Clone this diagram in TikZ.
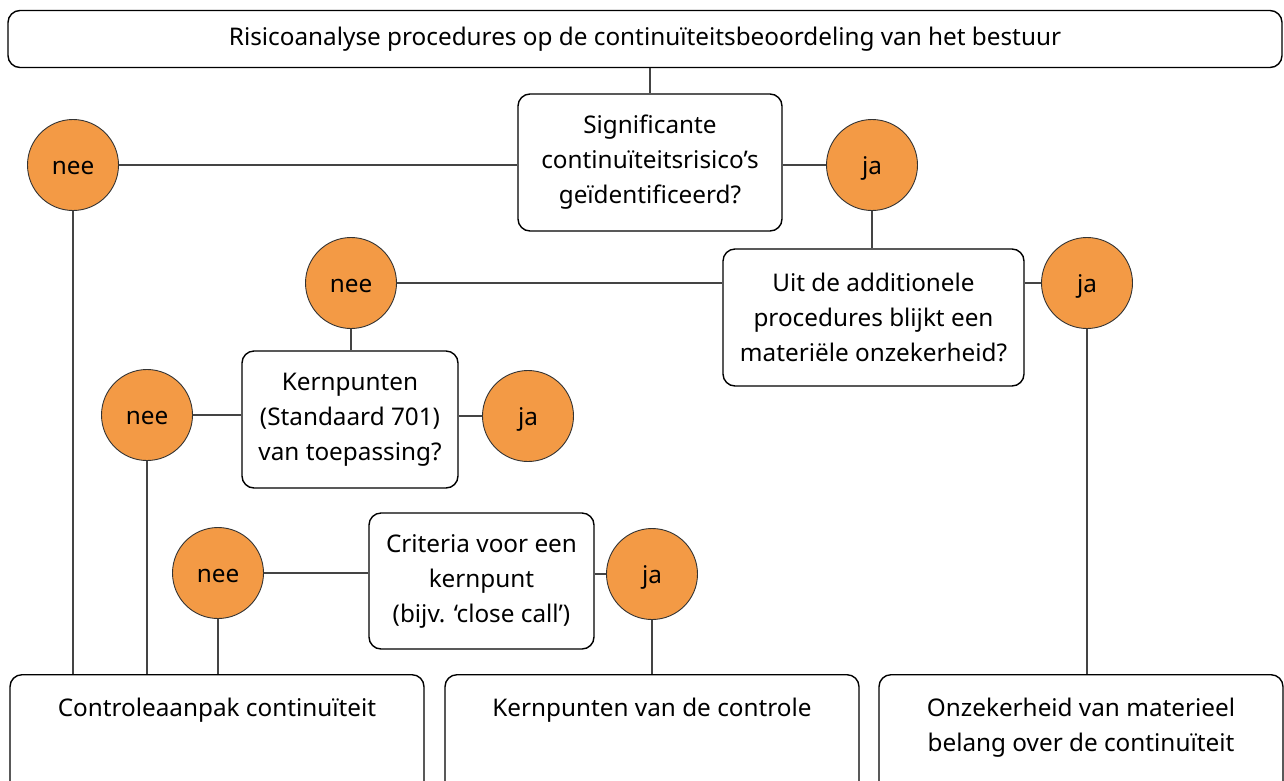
\documentclass[tikz,border=0pt]{standalone}
\usepackage{fontspec}
\setmainfont{Noto Sans}
\usetikzlibrary{positioning}
\definecolor{cO}{HTML}{F39A45}
\definecolor{cL}{HTML}{444444}
\tikzset{qbox/.style={
  shape=rectangle,
  draw=black,
  rounded corners=12pt,
  line width=1.4pt,
  align=center,
  inner sep=0pt,
  }
}
\tikzset{endbox/.style={
  qbox,
  minimum height=130pt,
  anchor=north,
  }
}
\tikzset{ball/.style={
  shape=circle,
  draw=black!80,
  fill=cO,
  line width=0.9pt,
  minimum size=91pt,
  inner sep=0pt,
  text height=19pt,
  text depth=0pt,
  }
}
\tikzset{link/.style={
  draw=cL,
  line width=1.3pt,
  }
}

\begin{document}
\begin{tikzpicture}[x=1pt, y=-1pt, font=\fontsize{24.3}{35}\selectfont]
      \useasboundingbox (0,0) rectangle (1284,780);
      \clip (0,0) rectangle (1284,780);

      % questions
      \node [qbox, minimum width=1274pt, minimum height=57pt] (top) at (645,39)
        {Risicoanalyse procedures op de continuïteitsbeoordeling van het bestuur};
      \node [qbox, minimum width=264pt, minimum height=137pt] (sig) at (650,162.5)
        {Significante\\continuïteitsrisico’s\\geïdentificeerd?};
      \node [qbox, minimum width=301pt, minimum height=137pt] (uit) at (873.5,317.5)
        {Uit de additionele\\procedures blijkt een\\materiële onzekerheid?};
      \node [qbox, minimum width=216pt, minimum height=137pt] (kern) at (350,419.5)
        {Kernpunten\\(Standaard 701)\\van toepassing?};
      \node [qbox, minimum width=225pt, minimum height=136pt] (crit) at (481.5,581)
        {Criteria voor een\\kernpunt\\(bijv. ‘close call’)};

      % answers
      \node [ball] (nee1) at (73,165)  {nee};
      \node [ball] (ja1)  at (872,165) {ja};
      \node [ball] (nee2) at (351,283) {nee};
      \node [ball] (ja2)  at (1087,283) {ja};
      \node [ball] (nee3) at (147,415) {nee};
      \node [ball] (ja3)  at (528,416) {ja};
      \node [ball] (nee4) at (218,573) {nee};
      \node [ball] (ja4)  at (652,574) {ja};

      % outcomes
      \node [endbox, minimum width=414pt,
        label={[anchor=north, yshift=-20pt, align=center]north:Controleaanpak continuïteit}]
        (ctrl) at (217,674) {};
      \node [endbox, minimum width=414pt,
        label={[anchor=north, yshift=-20pt, align=center]north:Kernpunten van de controle}]
        (kpc) at (652,674) {};
      \node [endbox, minimum width=404pt,
        label={[anchor=north, yshift=-20pt, align=center]north:Onzekerheid van materieel\\belang over de continuïteit}]
        (onz) at (1081,674) {};

      \draw [link] (sig.north) -- (sig.north |- top.south);
      \draw [link] (nee1) -- (nee1 -| sig.west);
      \draw [link] (sig.east |- ja1) -- (ja1);
      \draw [link] (ja1) -- (ja1 |- uit.north);
      \draw [link] (nee2) -- (nee2 -| uit.west);
      \draw [link] (uit.east |- ja2) -- (ja2);
      \draw [link] (nee2) -- (nee2 |- kern.north);
      \draw [link] (nee3) -- (nee3 -| kern.west);
      \draw [link] (kern.east |- ja3) -- (ja3);
      \draw [link] (nee4) -- (nee4 -| crit.west);
      \draw [link] (crit.east |- ja4) -- (ja4);
      \draw [link] (nee1) -- (nee1 |- ctrl.north);
      \draw [link] (nee3) -- (nee3 |- ctrl.north);
      \draw [link] (nee4) -- (nee4 |- ctrl.north);
      \draw [link] (ja4) -- (ja4 |- kpc.north);
      \draw [link] (ja2) -- (ja2 |- onz.north);
\end{tikzpicture}
\end{document}
